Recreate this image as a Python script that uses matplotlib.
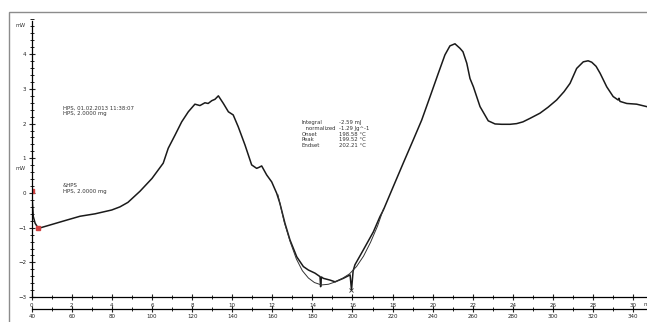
import matplotlib
matplotlib.use("Agg")
import matplotlib.pyplot as plt
from matplotlib.patches import Rectangle
from matplotlib.ticker import MultipleLocator

# ---- data ----
time_min = [0.0, 0.0, 0.0, 0.08, 0.17, 0.33, 0.75, 1.16, 1.75, 2.41, 3.16, 3.99, 4.40, 4.80,
            5.40, 6.00, 6.56, 6.81, 7.15, 7.48, 7.81, 8.14, 8.39, 8.64, 8.80, 8.98, 9.14,
            9.31, 9.56, 9.81, 10.05, 10.30, 10.64, 10.97, 11.22, 11.34, 11.47, 11.72, 11.97,
            12.22, 12.38, 12.63, 12.88, 13.22, 13.55, 13.80, 14.13, 14.38, 14.41, 14.45,
            14.55, 14.88, 15.13, 15.54, 15.88, 15.95, 16.03, 16.12, 16.54, 17.04, 17.37,
            17.54, 18.03, 18.53, 19.03, 19.45, 19.87, 20.28, 20.61, 20.86, 21.11, 21.36,
            21.51, 21.70, 21.86, 22.03, 22.36, 22.77, 23.11, 23.44, 23.86, 24.19, 24.50,
            24.85, 25.35, 25.75, 26.18, 26.55, 26.85, 27.18, 27.51, 27.75, 27.93, 28.15,
            28.35, 28.68, 29.00, 29.25, 29.29, 29.34, 29.68, 30.17, 30.67, 31.00]
heat_flow_mw = [3.2, -1.75, 0.05, -0.68, -0.87, -1.02, -0.95, -0.88, -0.78, -0.67, -0.60,
                -0.49, -0.40, -0.27, 0.05, 0.42, 0.86, 1.29, 1.67, 2.05, 2.34, 2.56, 2.52,
                2.60, 2.58, 2.66, 2.70, 2.80, 2.58, 2.34, 2.25, 1.91, 1.38, 0.81, 0.71, 0.74,
                0.78, 0.52, 0.32, -0.01, -0.30, -0.87, -1.35, -1.84, -2.12, -2.22, -2.31,
                -2.41, -2.70, -2.42, -2.46, -2.51, -2.56, -2.46, -2.36, -2.80, -2.25, -2.07,
                -1.64, -1.12, -0.68, -0.49, 0.18, 0.86, 1.53, 2.10, 2.78, 3.45, 3.98, 4.24,
                4.30, 4.17, 4.07, 3.74, 3.30, 3.06, 2.49, 2.08, 1.99, 1.98, 1.98, 2.00, 2.05,
                2.15, 2.30, 2.47, 2.68, 2.92, 3.16, 3.59, 3.78, 3.81, 3.77, 3.65, 3.45, 3.06,
                2.78, 2.68, 2.73, 2.64, 2.58, 2.56, 2.49, 2.47]

fit_time = [12.28, 12.60, 12.90, 13.20, 13.50, 13.80, 14.10, 14.45, 14.80, 15.15, 15.50,
            15.85, 16.20, 16.55, 16.90, 17.25, 17.55]
fit_mw = [-0.05, -0.85, -1.42, -1.90, -2.24, -2.45, -2.58, -2.65, -2.63, -2.56, -2.46,
          -2.33, -2.12, -1.82, -1.42, -0.95, -0.45]

marker_time = [0.0, 0.33]
marker_mw = [0.05, -1.02]
star_time = [15.95]
star_mw = [-2.80]

y_ticks = [-3, -2, -1, 0, 1, 2, 3, 4]
time_ticks = list(range(0, 31, 2))
temp_ticks = list(range(40, 341, 20))

label1 = ["HPS, 01.02.2013 11:38:07", "HPS, 2.0000 mg"]
label2 = ["&HPS", "HPS, 2.0000 mg"]
result_names = ["Integral", "  normalized", "Onset", "Peak", "Endset"]
result_values = ["-2.59 mJ", "-1.29 Jg^-1", "198.58 \u00b0C", "199.52 \u00b0C", "202.21 \u00b0C"]

# ---- layout ----
W, H = 647, 322
fig = plt.figure(figsize=(W / 100, H / 100), dpi=100)
plt.rcParams['font.family'] = ['DejaVu Sans']

x0_px, px_per_min = 31.7, 20.05
y0_px, px_per_mw = 193.0, 34.7
t_min, t_max = 0.0, 31.0
v_min, v_max = -3.0, 5.0
left = x0_px / W
width = (t_max - t_min) * px_per_min / W
bottom = (H - (y0_px - v_min * px_per_mw)) / H
height = (v_max - v_min) * px_per_mw / H

# outer grey frame
fig.patches.append(Rectangle((9 / W, -0.2), 1.2, (H - 12) / H + 0.2, transform=fig.transFigure,
                             fill=False, edgecolor='#8c8c8c', lw=1.0))

ax = fig.add_axes([left, bottom, width, height])
ax.set_xlim(t_min, t_max)
ax.set_ylim(v_min, v_max)
ax.patch.set_alpha(0)
for s in ['top', 'right']:
    ax.spines[s].set_visible(False)
ax.spines['left'].set_bounds(-3, 4.97)
ax.spines['left'].set_linewidth(0.9)
ax.spines['bottom'].set_linewidth(0.9)

fs = 4.0
tfs = 3.9
ax.set_yticks(y_ticks)
ax.yaxis.set_minor_locator(MultipleLocator(0.2))
ax.set_xticks(time_ticks)
ax.xaxis.set_minor_locator(MultipleLocator(1))
ax.tick_params(axis='y', which='major', direction='inout', length=5, width=0.8, labelsize=fs,
               pad=1.5, colors='#222222')
ax.tick_params(axis='y', which='minor', direction='inout', length=2.5, width=0.6)
ax.tick_params(axis='x', which='major', direction='inout', length=4, width=0.8, labelsize=fs,
               pad=2, colors='#222222')
ax.tick_params(axis='x', which='minor', direction='inout', length=3, width=0.6)

# temperature axis (10 K/min from 40 °C)
sec = ax.secondary_xaxis(-0.042, functions=(lambda t: 40 + 10 * t, lambda T: (T - 40) / 10))
sec.set_xticks(temp_ticks)
sec.xaxis.set_minor_locator(MultipleLocator(10))
sec.spines['bottom'].set_linewidth(0.9)
sec.tick_params(axis='x', which='major', direction='inout', length=4, width=0.8, labelsize=fs,
                pad=2, colors='#222222')
sec.tick_params(axis='x', which='minor', direction='inout', length=3, width=0.6)

# curves
ax.plot(time_min, heat_flow_mw, color='#1a1a1a', lw=1.1, solid_joinstyle='round')
ax.plot(fit_time, fit_mw, color='#333333', lw=0.7)
ax.plot(marker_time, marker_mw, ls='none', marker='s', ms=2.2, color='#d04040')
ax.plot(star_time, star_mw, ls='none', marker='x', ms=2.5, mew=0.6, color='#333333')

# texts
tc = '#333333'
ax.text(-0.3, 4.83, "mW", fontsize=fs - 0.3, ha='right', va='center', color=tc, clip_on=False)
ax.text(-0.3, 0.72, "mW", fontsize=fs - 0.3, ha='right', va='center', color=tc, clip_on=False)
ax.text(30.5, -3.2, "min", fontsize=fs, ha='left', va='center', color=tc, clip_on=False)

ax.text(1.55, 2.37, "\n".join(label1), fontsize=tfs, ha='left', va='center',
        color=tc, linespacing=1.2)
ax.text(1.55, 0.12, "\n".join(label2), fontsize=tfs, ha='left', va='center',
        color=tc, linespacing=1.2)
ax.text(13.47, 1.7, "\n".join(result_names), fontsize=tfs, ha='left', va='center',
        color=tc, linespacing=1.2)
ax.text(15.35, 1.7, "\n".join(result_values), fontsize=tfs, ha='left', va='center',
        color=tc, linespacing=1.2)

fig.savefig("out.png", dpi=100)
